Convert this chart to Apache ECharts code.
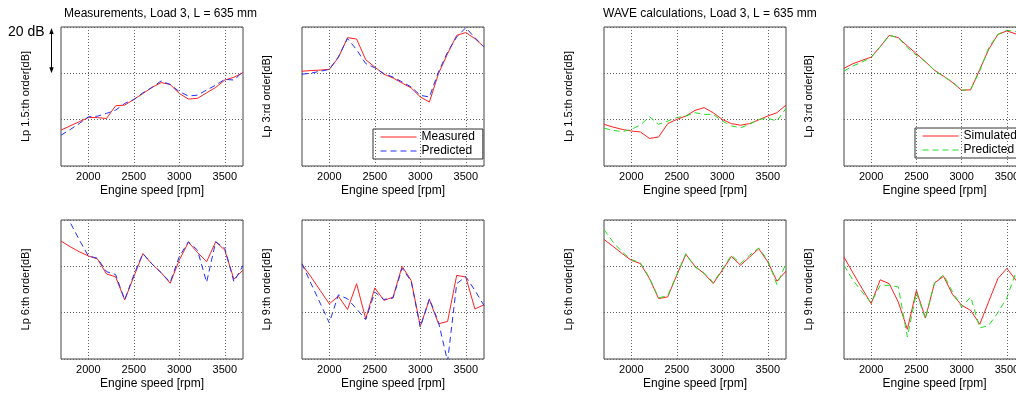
<!DOCTYPE html>
<html>
<head>
<meta charset="utf-8">
<script src="https://cdn.jsdelivr.net/npm/echarts@6/dist/echarts.min.js"></script>
<style>
html,body{margin:0;padding:0;background:#fff;overflow:hidden;}
#chart{width:1028px;height:395px;}
</style>
</head>
<body>
<div id="chart"></div>
<script>
// Engine speed (rpm)
var rpm = [1700,1800,1900,2000,2100,2200,2300,2400,2500,2600,2700,2800,2900,3000,3100,3200,3300,3400,3500,3600,3700];
var xTickLabels = [2000,2500,3000,3500];

// Measurements (dB, relative)
var meas15  = [15.5,17.3,19.1,20.9,20.9,20.5,26.0,26.3,28.7,31.3,33.9,36.0,35.2,31.3,28.9,29.2,31.6,33.9,37.1,38.3,40.3];
var predM15 = [13.3,15.7,18.3,21.2,21.5,22.7,24.1,27.0,28.7,31.6,33.9,36.7,35.2,32.1,30.2,30.6,32.8,34.9,37.4,37.1,40.7];
var meas3   = [40.9,41.2,41.4,41.7,46.8,55.4,54.8,45.9,42.7,39.6,38.0,35.8,33.7,29.8,27.6,39.9,48.5,56.4,57.6,55.0,51.4];
var predM3  = [39.6,40.1,40.9,41.7,47.1,55.0,50.2,44.2,42.4,39.9,38.4,36.3,34.1,30.5,29.8,40.6,49.2,55.7,59.7,55.4,51.4];
var meas6   = [50.9,48.5,46.3,44.5,43.2,36.7,35.5,25.5,35.5,45.5,41.0,37.3,32.7,42.7,50.4,46.0,42.0,50.6,47.0,34.4,38.4];
var predM6  = [66.0,59.0,51.5,44.5,43.5,37.7,36.5,25.5,36.3,45.5,41.0,37.3,33.1,44.2,50.6,47.0,33.1,50.6,47.8,33.4,40.3];
var meas9   = [40.8,35.4,29.6,23.8,27.1,21.4,32.5,17.3,30.7,25.3,26.7,40.0,33.9,14.1,25.7,15.2,16.2,36.1,35.4,21.6,23.4];
var predM9  = [41.1,32.5,24.1,15.6,27.7,26.0,21.6,17.0,28.9,25.7,26.3,39.2,33.5,13.7,26.0,15.9,-1.0,32.5,35.6,29.6,23.1];

// WAVE calculations (dB, relative)
var sim15   = [18.0,16.8,15.8,15.1,14.7,11.9,12.5,18.3,20.1,21.6,24.0,25.2,23.0,20.1,18.3,17.6,18.3,19.9,21.6,23.0,26.3];
var predW15 = [16.3,15.4,14.8,15.8,17.7,21.3,18.0,19.4,20.9,21.6,23.0,22.3,22.3,19.4,17.3,16.5,18.0,20.1,20.6,19.4,24.9];
var sim3    = [42.2,44.2,45.6,47.0,51.5,56.4,55.4,51.8,48.5,45.0,41.3,38.8,36.0,32.7,32.9,41.7,50.4,56.8,58.3,57.0,53.0];
var predW3  = [41.0,43.2,44.9,46.8,51.4,56.4,55.4,51.1,47.8,45.0,41.3,38.6,36.3,32.7,33.1,41.0,51.1,56.8,58.6,58.0,54.0];
var sim6    = [51.6,48.6,45.5,42.6,41.2,34.7,26.1,26.8,36.2,45.2,40.0,36.9,32.6,38.3,44.3,40.5,44.0,47.6,41.9,33.6,37.9];
var predW6  = [55.8,50.5,46.2,42.9,41.5,35.0,26.4,27.3,36.4,45.5,39.7,37.2,33.0,38.7,44.8,41.2,44.8,47.9,42.6,32.1,41.2];
var sim9    = [44.0,37.1,30.4,23.9,34.2,32.5,24.6,12.8,29.6,17.7,32.8,35.7,27.8,23.2,21.0,15.0,24.9,34.7,39.1,34.0,30.0];
var predW9  = [40.4,34.0,28.9,24.3,31.8,31.8,31.1,9.5,28.5,17.4,32.9,36.4,28.9,22.4,26.8,13.4,14.5,20.0,26.5,37.4,38.0];

var yLabels = ['Lp 1.5:th order[dB]','Lp 3:rd order[dB]','Lp 6:th order[dB]','Lp 9:th order[dB]'];
var titles = ['Measurements, Load 3, L = 635 mm','WAVE calculations, Load 3, L = 635 mm'];
var legendMeas = ['Measured','Predicted'];
var legendWave = ['Simulated','Predicted'];

// panels: [solid, dashed, yLabelIndex, group]
var panels = [
  [meas15, predM15, 0, 0], [meas3, predM3, 1, 0],
  [meas6,  predM6,  2, 0], [meas9, predM9, 3, 0],
  [sim15,  predW15, 0, 1], [sim3,  predW3, 1, 1],
  [sim6,   predW6,  2, 1], [sim9,  predW9, 3, 1]
];
// layout (left, top) for each panel
var layout = [
  [61,27],[302,27],[61,220],[302,220],
  [604,27],[844,27],[604,220],[844,220]
];

function pairs(arr){ return rpm.map(function(x,i){ return [x, arr[i]]; }); }

var FONT = '"Liberation Sans", Arial, sans-serif';
var grids=[], xAxes=[], yAxes=[], series=[];
panels.forEach(function(p, i){
  grids.push({left: layout[i][0], top: layout[i][1], width: 182, height: 139,
    show: true, borderColor: '#444', borderWidth: 1, backgroundColor: 'transparent'});
  xAxes.push({type:'value', gridIndex:i, min:1700, max:3700, interval:100,
    axisLine:{show:false}, axisTick:{show:false}, splitLine:{show:false},
    axisLabel:{margin:5, fontSize:11, color:'#000', fontFamily:FONT,
      formatter:function(v){ return xTickLabels.indexOf(v) >= 0 ? String(v) : ''; }},
    name:'Engine speed [rpm]', nameLocation:'middle', nameGap:19,
    nameTextStyle:{fontSize:12, color:'#000', fontFamily:FONT}});
  yAxes.push({type:'value', gridIndex:i, min:0, max:60, interval:20,
    axisLine:{show:false}, axisTick:{show:false}, axisLabel:{show:false},
    splitLine:{show:true, lineStyle:{color:'#666', type:[1,2], width:1}},
    name: yLabels[p[2]], nameLocation:'middle', nameGap:30, nameRotate:90,
    nameTextStyle:{fontSize:11, color:'#000', fontFamily:FONT}});
  var g = p[3];
  series.push({type:'line', name: g===0 ? 'Measured' : 'Simulated', xAxisIndex:i, yAxisIndex:i,
    data: pairs(p[0]), symbol:'none', clip:true, z:3,
    lineStyle:{color:'#ff2020', width:1}, itemStyle:{color:'#ff2020'},
    markLine:{silent:true, symbol:['none','none'], label:{show:false},
      lineStyle:{color:'#666', type:[1,2], width:1},
      data: xTickLabels.map(function(v){ return {xAxis:v}; })}});
  series.push({type:'line', name: g===0 ? 'Predicted' : 'Predicted WAVE', xAxisIndex:i, yAxisIndex:i,
    data: pairs(p[1]), symbol:'none', clip:true, z:3,
    lineStyle:{color: g===0 ? '#2030ff' : '#20e020', width:1, type:[6,4]},
    itemStyle:{color: g===0 ? '#2030ff' : '#20e020'}});
});

var legendCommon = {orient:'vertical', itemWidth:36, itemHeight:14, itemGap:2,
  padding:[2,8,2,7], borderColor:'#333', borderWidth:1, backgroundColor:'#fff', selectedMode:false,
  itemStyle:{opacity:0, borderWidth:0}, lineStyle:{width:1},
  textStyle:{fontSize:12, color:'#000', fontFamily:FONT}};

var chart = echarts.init(document.getElementById('chart'), null, {renderer:'canvas'});
chart.setOption({
  animation:false,
  backgroundColor:'#fff',
  textStyle:{fontFamily:FONT},
  title:[
    {text:titles[0], left:64, top:8, padding:0, textStyle:{fontSize:12, fontWeight:'normal', color:'#000', fontFamily:FONT}},
    {text:titles[1], left:603, top:8, padding:0, textStyle:{fontSize:12, fontWeight:'normal', color:'#000', fontFamily:FONT}}
  ],
  legend:[
    Object.assign({}, legendCommon, {data:legendMeas, left:373, top:129}),
    Object.assign({}, legendCommon, {data:['Simulated','Predicted WAVE'], left:915, top:128,
      formatter:function(n){ return n === 'Predicted WAVE' ? legendWave[1] : n; }})
  ],
  grid:grids, xAxis:xAxes, yAxis:yAxes, series:series
});

// 20 dB scale arrow beside first panel, positioned through the axis scale
var pTop = chart.convertToPixel({xAxisIndex:0, yAxisIndex:0}, [1700, 60]);
var pBot = chart.convertToPixel({xAxisIndex:0, yAxisIndex:0}, [1700, 40]);
var ax = pTop[0] - 9.5, yT = pTop[1] + 1, yB = pBot[1];
chart.setOption({graphic:[
  {type:'line', shape:{x1:ax, y1:yT+5, x2:ax, y2:yB-5}, style:{stroke:'#000', lineWidth:1}},
  {type:'polygon', shape:{points:[[ax,yT],[ax-2.2,yT+6],[ax+2.2,yT+6]]}, style:{fill:'#000'}},
  {type:'polygon', shape:{points:[[ax,yB],[ax-2.2,yB-6],[ax+2.2,yB-6]]}, style:{fill:'#000'}},
  {type:'text', x:ax-7, y:yT+4, style:{text:'20 dB', fontSize:14, fontFamily:FONT, fill:'#000', align:'right', verticalAlign:'middle'}}
]});
</script>
</body>
</html>
